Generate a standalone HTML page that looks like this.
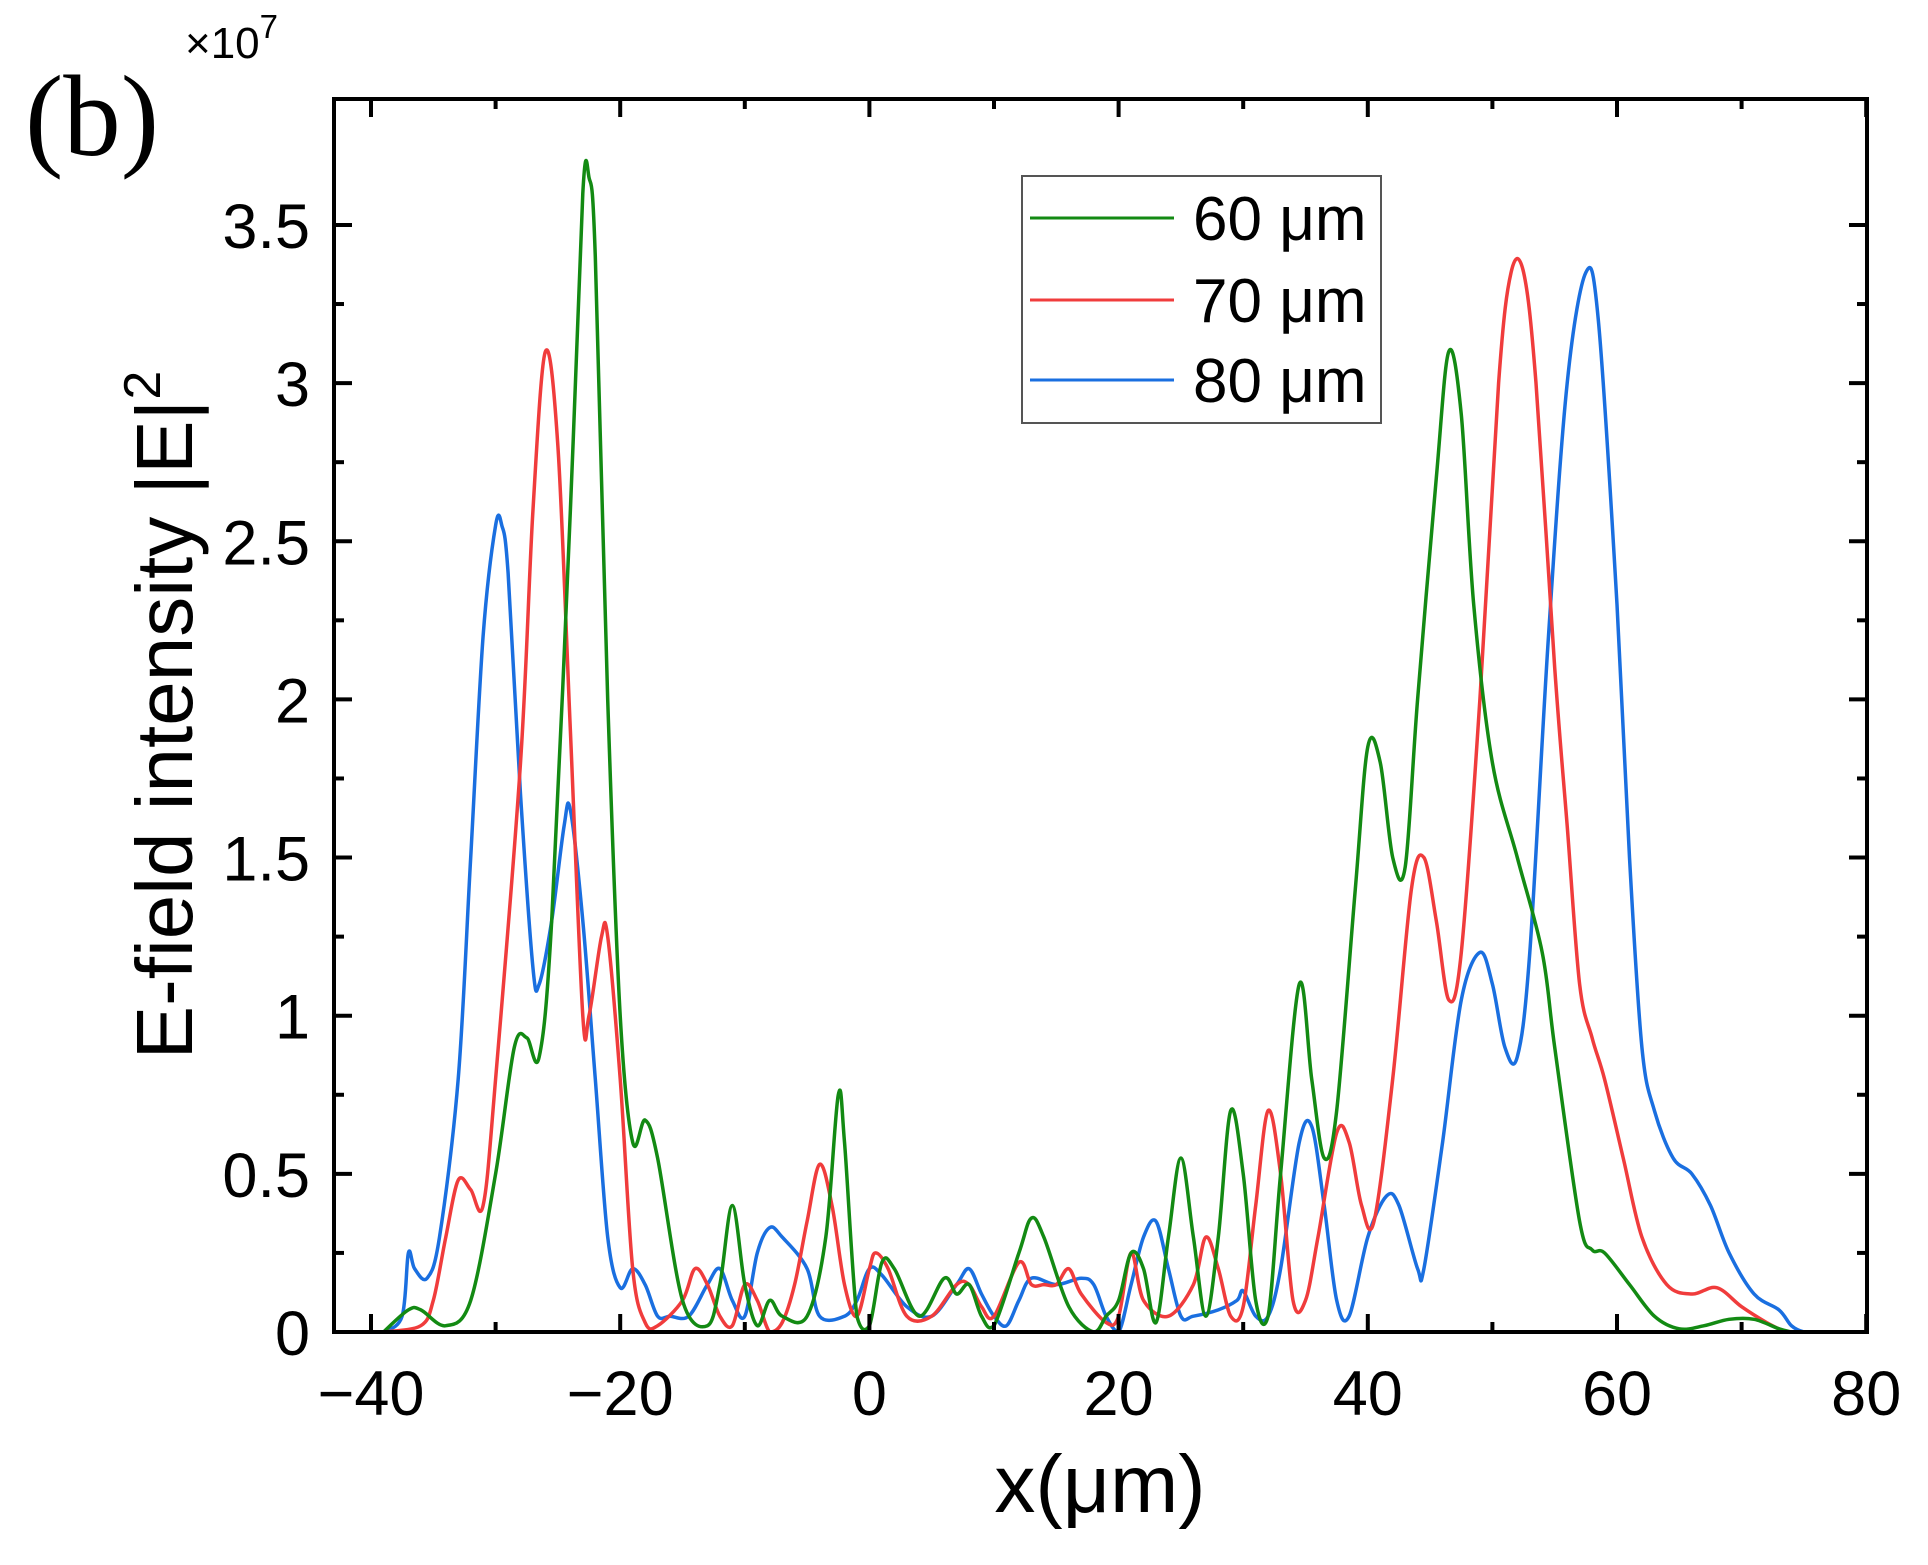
<!DOCTYPE html>
<html><head><meta charset="utf-8"><style>
html,body{margin:0;padding:0;background:#fff;}
svg text{font-family:"Liberation Sans",sans-serif;fill:#000;}
</style></head><body>
<svg id="s" width="1928" height="1560" xmlns="http://www.w3.org/2000/svg">
<rect width="1928" height="1560" fill="#fff"/>
<text x="25" y="155" style="font-family:'Liberation Serif',serif;font-size:115px">(b)</text>
<text x="185" y="58" style="font-size:44px">×10<tspan dy="-20" font-size="33">7</tspan></text>
<g id="plot"></g>
<rect x="334" y="99" width="1533" height="1233" fill="none" stroke="#000" stroke-width="4"/>
<g id="ticks" stroke="#000" stroke-width="4"></g>
<g id="labels" font-size="63"></g>
<text x="1100" y="1512" text-anchor="middle" style="font-size:82px">x(μm)</text>
<text transform="translate(192,715) rotate(-90)" text-anchor="middle" style="font-size:80px">E-field intensity |E|<tspan dy="-32" font-size="52">2</tspan></text>
<rect x="1022" y="176" width="359" height="247" fill="#fff" stroke="#555" stroke-width="2"/>
<line x1="1030" y1="218" x2="1174" y2="218" stroke="#138a13" stroke-width="3"/>
<line x1="1030" y1="300" x2="1174" y2="300" stroke="#f03c3c" stroke-width="3"/>
<line x1="1030" y1="380" x2="1174" y2="380" stroke="#1a6fe0" stroke-width="3"/>
<text x="1193" y="240" style="font-size:62px">60 μm</text>
<text x="1193" y="322" style="font-size:62px">70 μm</text>
<text x="1193" y="402" style="font-size:62px">80 μm</text>
</svg>
<script>
var X=function(x){return 371+(x+40)*12.46;},Y=function(y){return 1332-y*316.3;};
var NS="http://www.w3.org/2000/svg";
function el(p,t,a){var e=document.createElementNS(NS,t);for(var k in a)e.setAttribute(k,a[k]);p.appendChild(e);return e;}
var tk=document.getElementById('ticks'),lb=document.getElementById('labels');
for(var x=-40;x<=80;x+=10){var px=X(x),big=x%20==0,l=big?18:10;
 el(tk,'line',{x1:px,y1:1332,x2:px,y2:1332-l});el(tk,'line',{x1:px,y1:99,x2:px,y2:99+l});
 if(big){var t=el(lb,'text',{x:px,y:1415,'text-anchor':'middle'});t.textContent=(x<0?'−':'')+Math.abs(x);}}
for(var y=0;y<=3.51;y+=0.25){var py=Y(y),big=Math.abs(y*2-Math.round(y*2))<1e-6,l=big?18:10;
 el(tk,'line',{x1:334,y1:py,x2:334+l,y2:py});el(tk,'line',{x1:1867,y1:py,x2:1867-l,y2:py});
 if(big){var t=el(lb,'text',{x:310,y:py+23,'text-anchor':'end'});t.textContent=String(Math.round(y*10)/10);}}
function path(d,c){var p=[];for(var i=0;i<d.length;i+=2)p.push([X(d[i]),Y(d[i+1])]);
 var s='M'+p[0][0].toFixed(1)+','+p[0][1].toFixed(1);
 for(var i=0;i<p.length-1;i++){var a=p[Math.max(i-1,0)],b=p[i],c2=p[i+1],e=p[Math.min(i+2,p.length-1)];
  var c1x=b[0]+(c2[0]-a[0])/6,c1y=b[1]+(c2[1]-a[1])/6,c3x=c2[0]-(e[0]-b[0])/6,c3y=c2[1]-(e[1]-b[1])/6;
  c1y=Math.min(c1y,1332);c3y=Math.min(c3y,1332);
  s+='C'+c1x.toFixed(1)+','+c1y.toFixed(1)+' '+c3x.toFixed(1)+','+c3y.toFixed(1)+' '+c2[0].toFixed(1)+','+c2[1].toFixed(1);}
 el(document.getElementById('plot'),'path',{d:s,fill:'none',stroke:c,'stroke-width':3.5,'stroke-linejoin':'round'});}
var G=[-39,0,-37,0.07,-36,0.07,-34,0.02,-32,0.1,-30,0.5,-28.5,0.9,-27.5,0.93,-26.5,0.87,-25.5,1.3,-24,2.6,-23,3.6,-22.5,3.65,-22,3.4,-21,2.0,-20,1.0,-19,0.6,-18,0.67,-17,0.55,-15,0.1,-13,0.02,-12,0.15,-11,0.4,-10,0.15,-9,0.02,-8,0.1,-7,0.05,-5,0.05,-3.5,0.3,-2.5,0.75,-2,0.6,-1,0.05,0,0.02,1,0.22,2,0.2,4,0.05,6,0.17,7,0.12,8,0.15,9,0.05,10,0.02,12,0.25,13,0.36,14,0.3,16,0.08,18,0.0,19,0.05,20,0.1,21,0.25,22,0.2,23,0.03,24,0.3,25,0.55,26,0.3,27,0.05,28,0.3,29,0.7,30,0.5,31,0.1,32,0.05,33,0.5,34.5,1.1,35.5,0.8,36.5,0.55,37.5,0.7,39,1.4,40,1.85,41,1.8,42,1.5,43,1.47,44,2.0,45.5,2.7,46.5,3.1,47.5,2.9,48.5,2.3,50,1.8,52,1.5,54,1.2,55,0.9,57,0.35,58,0.26,59,0.25,61,0.15,63,0.05,65,0.01,67,0.02,69,0.04,71,0.04,73,0.01,74,0];
var R=[-39,0,-36,0.02,-35,0.1,-34,0.3,-33,0.48,-32,0.45,-31,0.4,-30,0.8,-28,1.8,-27,2.6,-26,3.1,-25,2.8,-24,1.9,-23,1.0,-22.5,1.0,-21.5,1.25,-21,1.25,-20,0.8,-19,0.2,-18,0.03,-17,0.02,-15,0.1,-14,0.2,-13,0.15,-12,0.05,-11,0.02,-10,0.15,-9,0.1,-8,0.0,-7,0.03,-6,0.15,-5,0.35,-4,0.53,-3,0.4,-2,0.15,-1,0.05,0,0.2,0.5,0.25,1.5,0.2,3,0.05,5,0.05,7,0.15,8,0.15,9,0.08,10,0.05,12,0.22,13,0.15,14,0.15,15,0.15,16,0.2,17,0.12,19,0.03,20,0.05,21,0.25,22,0.1,24,0.05,26,0.15,27,0.3,28,0.2,29,0.05,30,0.08,31,0.4,32,0.7,33,0.5,34,0.1,35,0.1,36,0.3,37.5,0.63,38.5,0.6,39.5,0.4,40.5,0.35,42,0.8,43.5,1.4,44.5,1.5,45.5,1.3,46.5,1.05,47.5,1.2,49,2.0,50.5,3.0,51.5,3.35,52.5,3.35,53.5,3.0,55,2.1,56,1.6,57,1.1,58,0.93,59,0.8,60.5,0.55,62,0.3,64,0.15,66,0.12,68,0.14,70,0.08,72,0.03,73.5,0];
var B=[-39,0,-37.5,0.05,-37,0.25,-36.5,0.2,-35.5,0.17,-34.5,0.3,-33,0.8,-32,1.5,-31,2.2,-30,2.55,-29.5,2.55,-29,2.4,-28,1.7,-27,1.15,-26.5,1.1,-25.5,1.3,-24.5,1.6,-24,1.65,-23,1.3,-22,0.8,-21,0.3,-20,0.14,-19,0.2,-18,0.15,-17,0.05,-16,0.05,-14.5,0.05,-13,0.15,-12,0.2,-11,0.1,-10,0.05,-9,0.25,-8,0.33,-7,0.3,-5,0.2,-4,0.05,-2,0.05,-1,0.1,0,0.2,1,0.18,3,0.08,5,0.05,7,0.15,8,0.2,9,0.12,10,0.05,11,0.02,12,0.1,13,0.17,15,0.15,17,0.17,18,0.15,19,0.05,20,0.0,21,0.15,22,0.3,23,0.35,24,0.2,25,0.05,26,0.05,28,0.07,29.5,0.1,30,0.13,31,0.05,32,0.05,33,0.2,34.5,0.6,35.5,0.65,36.5,0.4,37.5,0.1,38.5,0.05,40,0.3,41.5,0.43,42.5,0.4,44,0.2,44.5,0.2,46,0.6,47.5,1.05,49,1.2,50,1.1,51,0.9,52,0.87,53,1.2,54.5,2.2,56,3.0,57.5,3.35,58.5,3.2,60,2.3,61,1.5,62,0.9,63,0.7,64.5,0.55,66,0.5,67.5,0.4,69,0.25,71,0.12,73,0.07,74,0.02,75,0,76,0];
path(B,'#1a6fe0');path(R,'#f03c3c');path(G,'#138a13');
</script>
</body></html>
